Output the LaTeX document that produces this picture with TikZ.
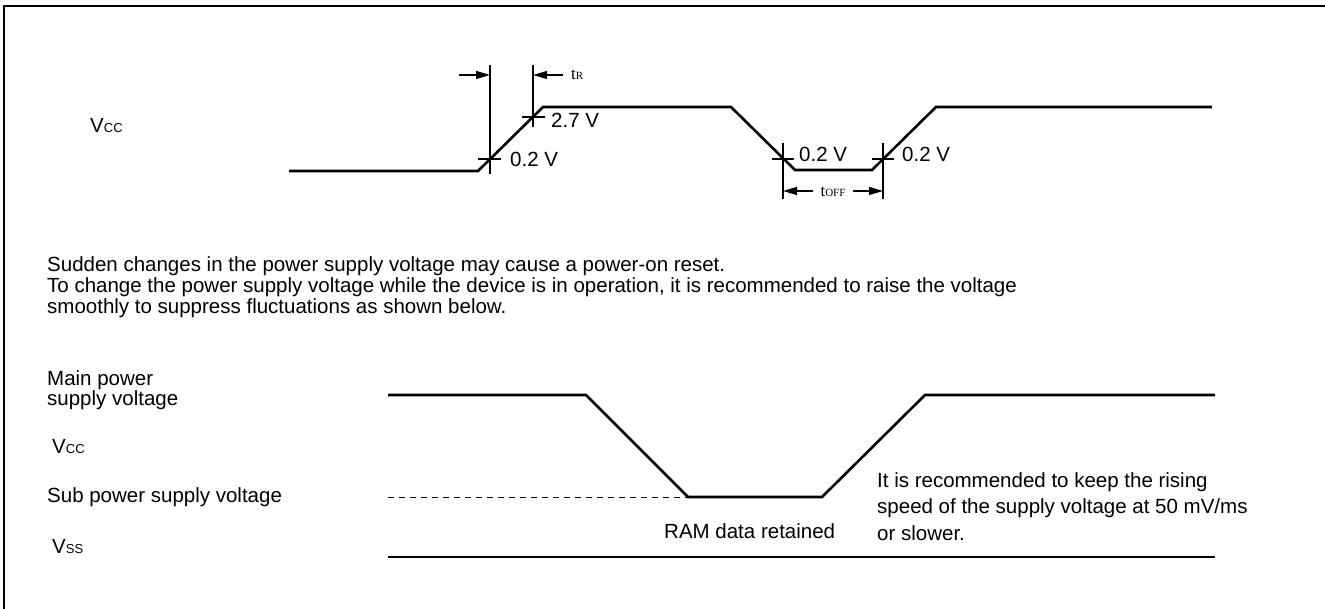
\documentclass[tikz,border=0pt]{standalone}
\usepackage{fontspec}
\setmainfont{Liberation Sans}
\newfontfamily\serifA{Liberation Serif}
\usetikzlibrary{arrows.meta}
\newcommand\sigV[1]{V{\fontsize{13}{14}\selectfont #1}}
\begin{document}
\begin{tikzpicture}[x=1pt,y=-1pt,
  wave/.style={line width=2.6pt, line join=miter},
  thinline/.style={line width=1.2pt},
  dimarrow/.style={line width=1.2pt,-{Triangle[length=14pt,width=8pt]}},
  framepen/.style={line width=2pt},
  dashpen/.style={line width=1pt, dash pattern=on 6pt off 5pt},
  lbl/.style={inner sep=0pt, anchor=base west, font=\fontsize{20.5}{24}\selectfont},
  tlbl/.style={inner sep=0pt, anchor=base west, font=\serifA\fontsize{17}{18}\selectfont}]
\useasboundingbox (0,0) rectangle (1325,609);
\fill[white] (0,0) rectangle (1325,609);
\draw[framepen] (4,609) -- (4,6) -- (1325,6);

% ---- top waveform
\draw[wave] (289,171) -- (478,171) -- (543,107) -- (731,107) -- (795,170) -- (872,170) -- (936,107) -- (1212,107);
\draw[thinline] (490,65) -- (490,174);
\draw[thinline] (478,159) -- (501,159);
\draw[thinline] (533,65) -- (533,127);
\draw[thinline] (522,117) -- (545,117);
\draw[thinline] (783,143) -- (783,199);
\draw[thinline] (772,159) -- (794,159);
\draw[thinline] (883,143) -- (883,199);
\draw[thinline] (872,159) -- (894,159);
\draw[dimarrow] (459,75) -- (490,75);
\draw[dimarrow] (563,75) -- (533,75);
\draw[dimarrow] (813,191) -- (783,191);
\draw[dimarrow] (853,191) -- (883,191);
\node[tlbl] (tr) at (571,80) {t{\fontsize{11}{12}\selectfont R}};
\node[tlbl, anchor=base] (toff) at (833,197) {t{\fontsize{11}{12}\selectfont OFF}};
\node[lbl] (v1) at (510,167) {0.2 V};
\node[lbl] (v2) at (551,128) {2.7 V};
\node[lbl] (v3) at (799,162) {0.2 V};
\node[lbl] (v4) at (902,162) {0.2 V};
\node[lbl] (vcctop) at (90,133) {\sigV{CC}};

% ---- paragraph
\node[lbl] (p1) at (47,272) {Sudden changes in the power supply voltage may cause a power-on reset.};
\node[lbl] (p2) at (47,293) {To change the power supply voltage while the device is in operation, it is recommended to raise the voltage};
\node[lbl] (p3) at (47,314) {smoothly to suppress fluctuations as shown below.};

% ---- bottom waveform
\draw[wave] (388,395) -- (586,395) -- (688,497) -- (822,497) -- (925,395) -- (1215,395);
\draw[dashpen] (388,497) -- (688,497);
\draw[wave] (388,557) -- (1215,557);
\node[lbl] (m1) at (47,385) {Main power};
\node[lbl] (m2) at (47,406) {supply voltage};
\node[lbl] (vccb) at (52,453) {\sigV{CC}};
\node[lbl] (sub) at (47,502) {Sub power supply voltage};
\node[lbl] (vss) at (52,553) {\sigV{SS}};
\node[lbl] (ram) at (664,538) {RAM data retained};
\node[lbl] (r1) at (877,487) {It is recommended to keep the rising};
\node[lbl] (r2) at (877,513) {speed of the supply voltage at 50 mV/ms};
\node[lbl] (r3) at (877,540) {or slower.};
\end{tikzpicture}
\end{document}
